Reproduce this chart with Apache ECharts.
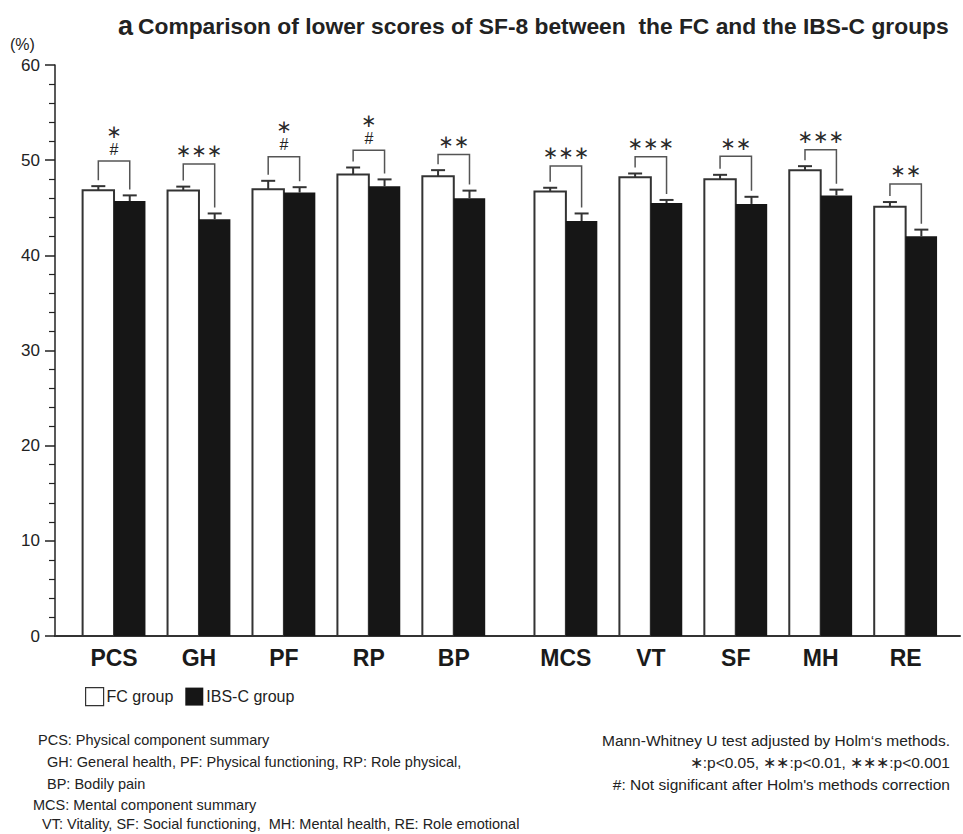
<!DOCTYPE html>
<html>
<head>
<meta charset="utf-8">
<script src="https://cdn.jsdelivr.net/npm/echarts@6/dist/echarts.min.js"></script>
<style>
  html, body { margin: 0; padding: 0; background: #fff; }
  #chart { width: 963px; height: 834px; }
</style>
</head>
<body>
<div id="chart"></div>
<script>
// SF-8 subscale scores, FC vs IBS-C (mean with upper error)
const categories = ['PCS', 'GH', 'PF', 'RP', 'BP', 'MCS', 'VT', 'SF', 'MH', 'RE'];
const fcMean  = [46.85, 46.8, 46.95, 48.5, 48.3, 46.7, 48.2, 48.0, 48.95, 45.1];
const fcErr   = [0.42, 0.42, 0.88, 0.73, 0.65, 0.4, 0.4, 0.46, 0.42, 0.5];
const ibsMean = [45.7, 43.8, 46.6, 47.25, 46.0, 43.6, 45.5, 45.4, 46.3, 42.0];
const ibsErr  = [0.6, 0.6, 0.56, 0.73, 0.8, 0.8, 0.32, 0.75, 0.6, 0.7];
// height of each significance bracket, in score units
const bracketLevel = [49.9, 49.6, 50.35, 51.05, 50.6, 49.4, 50.35, 50.4, 51.1, 47.5];
const stars  = [1, 3, 1, 1, 2, 3, 3, 2, 3, 2];
const holmNS = [true, false, true, true, false, false, false, false, false, false];
const yTicks = { min: 0, max: 60, step: 10 };

const STAR = '\u2217';
const FONT = '"Liberation Sans", Arial, sans-serif';
const groupGap = 0.32;        // extra space between physical and mental blocks
const barFrac = 0.37;         // width of one bar as a fraction of category spacing
const xPos = i => i + (i >= 5 ? groupGap : 0);
const positions = categories.map((c, i) => xPos(i));

const chart = echarts.init(document.getElementById('chart'), null, { renderer: 'svg' });

function barRenderer(side, fill, stroke, lineWidth) {
  return function (params, api) {
    const x = api.value(0), mean = api.value(1), err = api.value(2);
    const base = api.coord([x, 0]);
    const top = api.coord([x, mean]);
    const eTop = api.coord([x, mean + err]);
    const w = api.size([1, 0])[0] * barFrac;
    const x0 = side < 0 ? base[0] - w : base[0];
    const cx = x0 + w / 2;
    return {
      type: 'group',
      children: [
        { type: 'rect', shape: { x: x0, y: top[1], width: w, height: base[1] - top[1] },
          style: { fill: fill, stroke: stroke, lineWidth: lineWidth } },
        { type: 'line', shape: { x1: cx, y1: top[1], x2: cx, y2: eTop[1] },
          style: { stroke: '#333', lineWidth: 2 } },
        { type: 'line', shape: { x1: cx - 7, y1: eTop[1], x2: cx + 7, y2: eTop[1] },
          style: { stroke: '#333', lineWidth: 2 } }
      ]
    };
  };
}

function bracketRenderer(params, api) {
  const i = params.dataIndex;
  const x = api.value(0);
  const w = api.size([1, 0])[0] * barFrac;
  const c = api.coord([x, 0])[0];
  const lx = c - w / 2, rx = c + w / 2;
  const ly = api.coord([x, api.value(1)])[1] - 6;
  const ry = api.coord([x, api.value(2)])[1] - 6;
  const ty = api.coord([x, api.value(3)])[1];
  const children = [
    { type: 'polyline', shape: { points: [[lx, ly], [lx, ty], [rx, ty], [rx, ry]] },
      style: { stroke: '#555', lineWidth: 1.5, fill: null } },
    { type: 'text',
      style: { text: STAR.repeat(stars[i]), x: c, y: holmNS[i] ? ty - 30 : ty - 13,
        align: 'center', verticalAlign: 'middle',
        font: '18.5px "DejaVu Sans", sans-serif', fill: '#2a2a2a' } }
  ];
  if (holmNS[i]) {
    children.push({
      type: 'text',
      style: { text: '#', x: c, y: ty - 12, align: 'center', verticalAlign: 'middle',
        font: '16px ' + FONT, fill: '#222' }
    });
  }
  return { type: 'group', children: children };
}

const footLeft = [
  ['PCS: Physical component summary', 38, 740],
  ['GH: General health, PF: Physical functioning, RP: Role physical,', 47, 762],
  ['BP: Bodily pain', 47, 784],
  ['MCS: Mental component summary', 33, 805],
  ['VT: Vitality, SF: Social functioning,  MH: Mental health, RE: Role emotional', 42, 824]
];
const footRight = [
  ['Mann-Whitney U test adjusted by Holm\u2018s methods.', 740],
  [STAR + ':p<0.05, ' + STAR + STAR + ':p<0.01, ' + STAR + STAR + STAR + ':p<0.001', 762],
  ['#: Not significant after Holm\'s methods correction', 784]
];

const graphics = [
  { type: 'text', left: 10, top: 36,
    style: { text: '(%)', font: '16px ' + FONT, fill: '#222' } }
];
footLeft.forEach(f => graphics.push({
  type: 'text', x: f[1], y: f[2],
  style: { text: f[0], font: '14.5px ' + FONT, fill: '#222', verticalAlign: 'middle', align: 'left' }
}));
footRight.forEach(f => graphics.push({
  type: 'text', x: 950, y: f[1],
  style: { text: f[0], font: '15.5px ' + FONT, fill: '#222', verticalAlign: 'middle', align: 'right' }
}));

chart.setOption({
  animation: false,
  backgroundColor: '#fff',
  title: {
    left: 113, top: 7,
    text: '{a|a} {b|Comparison of lower scores of SF-8 between  the FC and the IBS-C groups}',
    textStyle: {
      rich: {
        a: { fontFamily: FONT, fontWeight: 'bold', fontSize: 27, color: '#222' },
        b: { fontFamily: FONT, fontWeight: 'bold', fontSize: 22.8, color: '#222' }
      }
    }
  },
  legend: {
    left: 80, top: 682,
    itemWidth: 18, itemHeight: 18, itemGap: 12,
    textStyle: { fontFamily: FONT, fontSize: 16, color: '#222', padding: [0, 0, 0, -2] },
    data: [
      { name: 'FC group', icon: 'rect', itemStyle: { color: '#fff', borderColor: '#333', borderWidth: 1.2 } },
      { name: 'IBS-C group', icon: 'rect', itemStyle: { color: '#161616', borderWidth: 0 } }
    ]
  },
  grid: { left: 55, right: 3, top: 65, bottom: 198 },
  xAxis: {
    type: 'value',
    min: -0.695, max: 9.96,
    axisLine: { show: true, onZero: false, lineStyle: { color: '#333', width: 2 } },
    axisTick: { show: false },
    splitLine: { show: false },
    axisLabel: {
      customValues: positions,
      formatter: v => categories[positions.findIndex(p => Math.abs(p - v) < 1e-6)] || '',
      fontFamily: FONT, fontWeight: 'bold', fontSize: 23, color: '#1a1a1a', margin: 10
    }
  },
  yAxis: {
    type: 'value',
    min: yTicks.min, max: yTicks.max, interval: yTicks.step,
    axisLine: { show: true, onZero: false, lineStyle: { color: '#222', width: 1.5 } },
    axisTick: { show: true, length: 10, lineStyle: { color: '#222', width: 1.5 } },
    minorTick: { show: true, splitNumber: 5, length: 6, lineStyle: { color: '#222', width: 1.2 } },
    splitLine: { show: false },
    axisLabel: { fontFamily: FONT, fontSize: 17, color: '#222', margin: 15 }
  },
  graphic: graphics,
  series: [
    {
      name: 'FC group', type: 'custom',
      itemStyle: { color: '#fff', borderColor: '#333' },
      renderItem: barRenderer(-1, '#fff', '#333', 2),
      data: categories.map((c, i) => [positions[i], fcMean[i], fcErr[i]]),
      encode: { x: 0, y: [1, 2] }
    },
    {
      name: 'IBS-C group', type: 'custom',
      itemStyle: { color: '#161616' },
      renderItem: barRenderer(1, '#161616', '#161616', 0),
      data: categories.map((c, i) => [positions[i], ibsMean[i], ibsErr[i]]),
      encode: { x: 0, y: [1, 2] }
    },
    {
      name: 'significance', type: 'custom',
      renderItem: bracketRenderer,
      data: categories.map((c, i) => [positions[i], fcMean[i] + fcErr[i], ibsMean[i] + ibsErr[i], bracketLevel[i]]),
      encode: { x: 0, y: [1, 2, 3] },
      silent: true
    }
  ]
});
</script>
</body>
</html>
